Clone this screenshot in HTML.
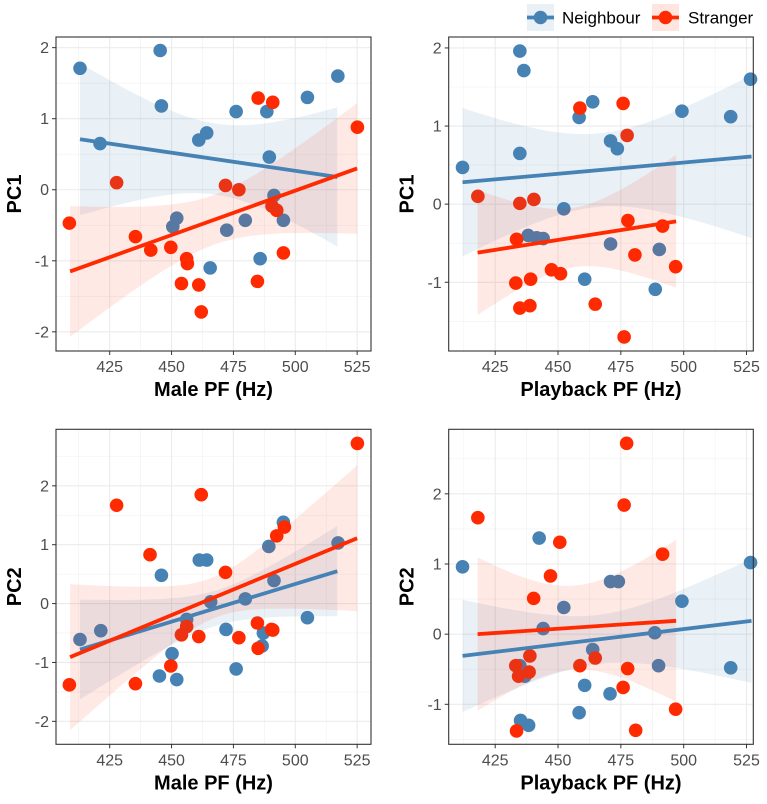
<!DOCTYPE html>
<html><head><meta charset="utf-8"><style>
body{margin:0;background:#fff;}
svg{display:block;font-family:"Liberation Sans",Arial,sans-serif;}
</style></head><body>
<svg id="chart" width="767" height="804"></svg>
<script>
// ---- data (x = PF in Hz, y = PC score) ----
const tlNeighX=[413.0,445.4,445.9,421.1,461.0,464.2,476.1,488.5,504.9,517.2,489.5,491.4,495.2,479.8,472.3,452.1,450.5,465.6,485.8];
const tlNeighY=[1.71,1.96,1.18,0.65,0.70,0.80,1.10,1.10,1.30,1.60,0.46,-0.08,-0.43,-0.43,-0.57,-0.40,-0.52,-1.10,-0.97];
const tlStrX=[408.7,427.8,435.4,441.6,449.7,456.1,456.4,454.0,461.0,462.0,471.8,477.2,485.0,490.9,490.6,492.5,495.2,484.7,525.1];
const tlStrY=[-0.47,0.10,-0.66,-0.85,-0.81,-0.97,-1.04,-1.32,-1.34,-1.72,0.06,0.00,1.29,1.23,-0.23,-0.29,-0.89,-1.29,0.88];
const trNeighX=[412.0,434.8,436.4,434.8,458.4,463.8,470.9,473.6,499.3,518.7,526.6,452.3,438.1,441.5,444.1,470.9,490.3,460.6,488.7];
const trNeighY=[0.47,1.96,1.71,0.65,1.11,1.31,0.81,0.71,1.19,1.12,1.60,-0.06,-0.40,-0.43,-0.44,-0.51,-0.58,-0.96,-1.09];
const trStrX=[418.1,434.8,440.4,433.5,433.2,434.8,438.8,439.1,447.4,451.0,458.7,475.9,477.5,477.8,480.6,491.6,496.8,464.8,476.3];
const trStrY=[0.10,0.01,0.06,-0.45,-1.01,-1.33,-1.30,-0.96,-0.84,-0.89,1.23,1.29,0.88,-0.21,-0.65,-0.28,-0.80,-1.28,-1.70];
const blNeighX=[413.0,421.4,445.9,461.2,464.2,465.8,479.8,472.0,476.1,450.2,445.1,452.1,489.3,495.2,491.4,517.3,504.9,487.1,486.6,456.1];
const blNeighY=[-0.61,-0.46,0.48,0.74,0.74,0.03,0.08,-0.44,-1.11,-0.85,-1.23,-1.29,0.97,1.38,0.39,1.03,-0.24,-0.50,-0.72,-0.27];
const blStrX=[408.7,427.8,435.4,441.3,462.0,449.7,454.0,456.1,461.0,471.8,477.2,484.7,485.0,490.4,490.9,492.5,495.6,525.1];
const blStrY=[-1.38,1.67,-1.36,0.83,1.85,-1.06,-0.53,-0.39,-0.56,0.53,-0.58,-0.33,-0.76,-0.44,-0.45,1.15,1.30,2.72];
const brNeighX=[412.0,442.5,452.3,444.1,470.9,474.0,499.3,526.6,518.7,488.5,490.0,463.8,460.6,470.7,458.4,435.1,438.3,434.8,436.8];
const brNeighY=[0.96,1.37,0.38,0.08,0.75,0.75,0.47,1.02,-0.48,0.02,-0.45,-0.22,-0.73,-0.85,-1.12,-1.23,-1.30,-0.45,-0.60];
const brStrX=[418.1,477.3,476.3,450.7,447.0,440.3,491.6,438.8,433.2,434.3,438.5,458.7,464.8,477.7,475.9,496.8,433.5,480.9];
const brStrY=[1.66,2.72,1.84,1.31,0.83,0.51,1.14,-0.31,-0.45,-0.60,-0.54,-0.45,-0.34,-0.49,-0.76,-1.07,-1.38,-1.37];
// fit lines: [x0, x1, y0, y1]; ribbons: [xMean, minHalfWidth, k^2]
const tlNeighFit=[413,517,0.71,0.18]; const tlNeighCI=[468,0.50,2.96e-4];
const tlStrFit=[409,525,-1.15,0.30];  const tlStrCI=[467,0.35,2.15e-4];
const trNeighFit=[412,527,0.28,0.61]; const trNeighCI=[466,0.47,2.34e-4];
const trStrFit=[418,497,-0.62,-0.22]; const trStrCI=[456,0.38,3.43e-4];
const blNeighFit=[413,517,-0.78,0.55]; const blNeighCI=[468,0.30,2.08e-4];
const blStrFit=[409,525,-0.91,1.11];  const blStrCI=[467,0.35,4.2e-4];
const brNeighFit=[412,527,-0.31,0.19]; const brNeighCI=[466,0.35,1.77e-4];
const brStrFit=[418,497,0.00,0.19];   const brStrCI=[456,0.60,5.8e-4];
const xTicks=[425,450,475,500,525];
const yTicksTop=[-2,-1,0,1,2];
const yTicksTR=[-1,0,1,2];
const yTicksBL=[-2,-1,0,1,2];
const yTicksBR=[-1,0,1,2];

const NS="http://www.w3.org/2000/svg";
const svg=document.getElementById('chart');
const BLUE="#4682B4", RED="#FF2A00";
function mk(tag,attrs,parent){const e=document.createElementNS(NS,tag);for(const k in attrs)e.setAttribute(k,attrs[k]);(parent||svg).appendChild(e);return e;}

function panel(id,box,xd,yd,yTicks,xTitle,yTitle,neigh,str){
  const [L,T,R,B]=box;
  const sx=v=>L+(v-xd[0])/(xd[1]-xd[0])*(R-L);
  const sy=v=>B-(v-yd[0])/(yd[1]-yd[0])*(B-T);
  const g=mk('g',{});
  
  
  mk('rect',{x:L,y:T,width:R-L,height:B-T,fill:'#fff'},g);
  for(let v=Math.ceil(xd[0]/25)*25-12.5;v<xd[1];v+=25){if(v>xd[0])mk('line',{x1:sx(v),x2:sx(v),y1:T,y2:B,stroke:'#f0f0f0','stroke-width':0.6},g);}
  for(let v=Math.ceil(yd[0])-0.5;v<yd[1];v+=1){if(v>yd[0])mk('line',{x1:L,x2:R,y1:sy(v),y2:sy(v),stroke:'#f0f0f0','stroke-width':0.6},g);}
  xTicks.forEach(v=>{mk('line',{x1:sx(v),x2:sx(v),y1:T,y2:B,stroke:'#ebebeb','stroke-width':1.1},g);});
  yTicks.forEach(v=>{mk('line',{x1:L,x2:R,y1:sy(v),y2:sy(v),stroke:'#ebebeb','stroke-width':1.1},g);});
  [[neigh,BLUE,'neighbour'],[str,RED,'stranger']].forEach(([s,c,nm])=>{
    s.x.forEach((xv,i)=>{
      const p=mk('circle',{cx:sx(xv),cy:sy(s.y[i]),r:6.8,fill:c},g);
      
      
    });
  });
  [[neigh,BLUE,0.12,'neighbour'],[str,RED,0.10,'stranger']].forEach(([s,c,op,nm])=>{
    const f=s.fit,ci=s.ci;const n=40;let up=[],lo=[];
    for(let i=0;i<=n;i++){const xv=f[0]+(f[1]-f[0])*i/n;const yc=f[2]+(f[3]-f[2])*(xv-f[0])/(f[1]-f[0]);
      const hw=Math.sqrt(ci[1]*ci[1]+ci[2]*(xv-ci[0])*(xv-ci[0]));
      up.push(sx(xv).toFixed(1)+','+sy(yc+hw).toFixed(1));lo.unshift(sx(xv).toFixed(1)+','+sy(yc-hw).toFixed(1));}
    const r=mk('polygon',{points:up.concat(lo).join(' '),fill:c,'fill-opacity':op},g);
    
    
  });
  [[neigh,BLUE,'neighbour'],[str,RED,'stranger']].forEach(([s,c,nm])=>{
    const f=s.fit;
    const l=mk('line',{x1:sx(f[0]),y1:sy(f[2]),x2:sx(f[1]),y2:sy(f[3]),stroke:c,'stroke-width':3.8},g);
    
    
  });
  mk('rect',{x:L,y:T,width:R-L,height:B-T,fill:'none',stroke:'#333','stroke-width':1.1},g);
  xTicks.forEach(v=>{mk('line',{x1:sx(v),x2:sx(v),y1:B,y2:B+4,stroke:'#333','stroke-width':1},g);
    const t=mk('text',{x:sx(v),y:B+21,'text-anchor':'middle','font-size':16,fill:'#4d4d4d'},g);t.textContent=v;
    });
  yTicks.forEach(v=>{mk('line',{x1:L-4,x2:L,y1:sy(v),y2:sy(v),stroke:'#333','stroke-width':1},g);
    const t=mk('text',{x:L-7,y:sy(v)+5.5,'text-anchor':'end','font-size':16,fill:'#4d4d4d'},g);t.textContent=v;
    });
  const xt=mk('text',{x:(L+R)/2,y:B+45,'text-anchor':'middle','font-size':20,'font-weight':'bold',fill:'#000'},g);xt.textContent=xTitle;
  
  const yt=mk('text',{x:0,y:0,'text-anchor':'middle','font-size':20,'font-weight':'bold',fill:'#000',transform:`translate(${L-35},${(T+B)/2}) rotate(-90)`},g);yt.textContent=yTitle;
  
}
panel('pc1-male',[56,37,371,351],[403.3,530.6],[-2.27,2.15],yTicksTop,'Male PF (Hz)','PC1',
  {x:tlNeighX,y:tlNeighY,fit:tlNeighFit,ci:tlNeighCI},{x:tlStrX,y:tlStrY,fit:tlStrFit,ci:tlStrCI});
panel('pc1-playback',[448.7,37,753.3,351],[406.5,527.7],[-1.88,2.14],yTicksTR,'Playback PF (Hz)','PC1',
  {x:trNeighX,y:trNeighY,fit:trNeighFit,ci:trNeighCI},{x:trStrX,y:trStrY,fit:trStrFit,ci:trStrCI});
panel('pc2-male',[56,429.3,371,744.3],[403.3,530.6],[-2.39,2.96],yTicksBL,'Male PF (Hz)','PC2',
  {x:blNeighX,y:blNeighY,fit:blNeighFit,ci:blNeighCI},{x:blStrX,y:blStrY,fit:blStrFit,ci:blStrCI});
panel('pc2-playback',[448.7,429.3,753.3,744.3],[406.5,527.7],[-1.57,2.92],yTicksBR,'Playback PF (Hz)','PC2',
  {x:brNeighX,y:brNeighY,fit:brNeighFit,ci:brNeighCI},{x:brStrX,y:brStrY,fit:brStrFit,ci:brStrCI});

const lg=mk('g',{});


[[527,BLUE,'Neighbour',562,'legend-entry-neighbour'],[652,RED,'Stranger',688,'legend-entry-stranger']].forEach(([kx,c,lab,tx,nm])=>{
  const e=mk('g',{},lg);
  
  
  mk('rect',{x:kx,y:4,width:27,height:27,fill:c,'fill-opacity':0.12},e);
  mk('line',{x1:kx,x2:kx+27,y1:17.5,y2:17.5,stroke:c,'stroke-width':3.8},e);
  mk('circle',{cx:kx+13.5,cy:17.5,r:6.8,fill:c},e);
  const t=mk('text',{x:tx,y:23.5,'font-size':17,fill:'#000'},e);t.textContent=lab;
});
</script>
</body></html>
